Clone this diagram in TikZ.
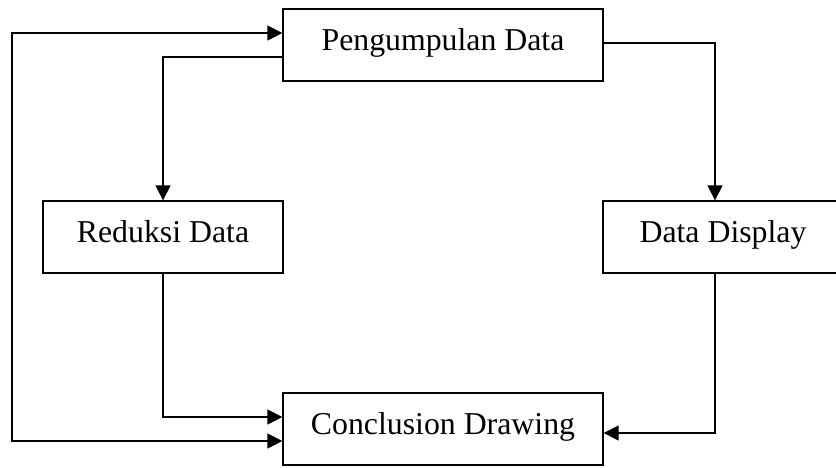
\documentclass[tikz,border=0pt]{standalone}
\usepackage{fontspec}
\setmainfont{Liberation Serif}
\usepackage{tikz}
\usetikzlibrary{arrows.meta, positioning}
\tikzstyle{box} = [rectangle, minimum width = 240, minimum height = 72, draw =
  black, line width = 1.3, text centered, text height = 20, text depth = 10,
  font = \fontsize{31.8}{38}\selectfont]
\tikzstyle{wide} = [minimum width = 320]

\begin{document}
\begin{tikzpicture}[x = 1pt, y = -1pt, node distance = 0, line width = 1.3,
    > = {Triangle[length = 15, width = 15]}]
      \useasboundingbox (0, 0) rectangle (836, 467);
      \node [box, wide] (pengumpulan) at (443, 45) {Pengumpulan Data};
      \node [box, below of = pengumpulan, xshift = -280, yshift = -192] (reduksi) {Reduksi Data};
      \node [box, below of = pengumpulan, xshift = 280, yshift = -192] (display) {Data Display};
      \node [box, wide, below of = pengumpulan, yshift = -384] (conclusion) {Conclusion Drawing};

      \coordinate (loop-top) at (12, 33);
      \coordinate (loop-bottom) at (12, 441);

      \draw [<->] ([yshift = 12]pengumpulan.west) -- (loop-top) -- (loop-bottom) --
      ([yshift = -12]conclusion.west);
      \draw [->] ([yshift = -12]pengumpulan.west) -| (reduksi.north);
      \draw [->] ([yshift = 2]pengumpulan.east) -| ([xshift = -8]display.north);
      \draw [->] (reduksi.south) |- ([yshift = 12]conclusion.west);
      \draw [->] ([xshift = -8]display.south) |- ([yshift = -4]conclusion.east);
    \end{tikzpicture}
\end{document}
